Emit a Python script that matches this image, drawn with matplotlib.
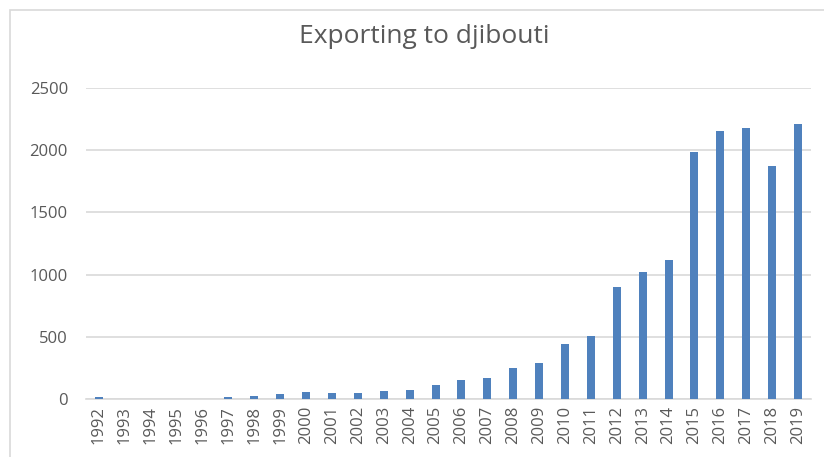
import matplotlib
matplotlib.use("Agg")
import matplotlib.pyplot as plt
from matplotlib.patches import Rectangle

years = [str(y) for y in range(1992, 2020)]
values = [14, 0, 0, 0, 0, 14, 27, 38, 56, 48, 48, 64, 70, 110,
          150, 169, 250, 287, 443, 507, 902, 1017, 1116, 1983,
          2152, 2176, 1876, 2211]
yticks = [0, 500, 1000, 1500, 2000, 2500]

W, H = 824, 457
fig = plt.figure(figsize=(W / 100, H / 100), dpi=100)
fig.patch.set_facecolor("white")

# chart-area border
fig.patches.append(Rectangle((10 / W, -0.1), 1.2, 1 - 10 / H + 0.1,
                             transform=fig.transFigure, fill=False,
                             edgecolor="#d9d9d9", linewidth=1.2))

ax = fig.add_axes([86 / W, 1 - 399 / H, (811 - 86) / W, (399 - 88) / H])
x = list(range(len(years)))
ax.bar(x, values, width=0.31, color="#4f81bd", zorder=3)
ax.set_xlim(-0.5, len(years) - 0.5)
ax.set_ylim(0, 2500)
ax.set_yticks(yticks)
ax.set_yticklabels([str(t) for t in yticks])
ax.set_xticks(x)
ax.set_xticklabels(years, rotation=90)
ax.yaxis.grid(True, color="#d9d9d9", linewidth=1.2, zorder=0)
for s in ["top", "right", "left"]:
    ax.spines[s].set_visible(False)
ax.spines["bottom"].set_color("#d9d9d9")
ax.spines["bottom"].set_linewidth(1.2)
ax.tick_params(axis="both", length=0, colors="#595959", labelsize=12)
ax.tick_params(axis="y", pad=13)
ax.tick_params(axis="x", pad=5)
for lab in ax.get_xticklabels() + ax.get_yticklabels():
    lab.set_family("Open Sans")

fig.text(424 / W, 1 - 43 / H, "Exporting to djibouti", ha="center", va="baseline",
         fontsize=19, color="#595959", family="Open Sans")

fig.savefig("out.png", dpi=100, facecolor="white")
